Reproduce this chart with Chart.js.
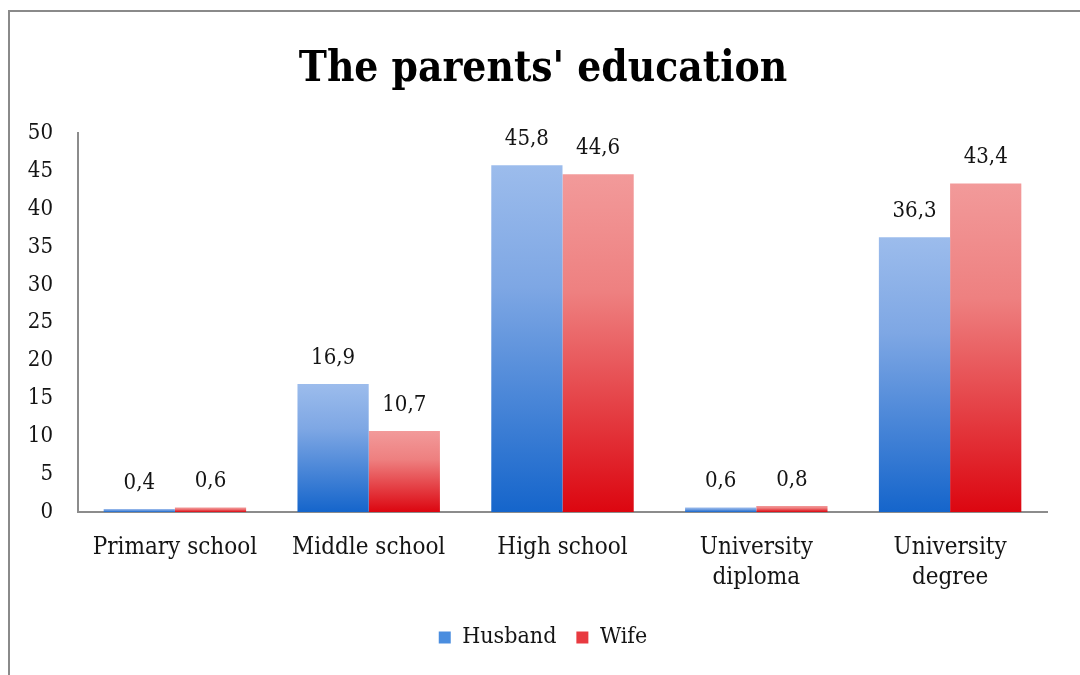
<!DOCTYPE html>
<html>
<head>
<meta charset="utf-8">
<script src="https://cdn.jsdelivr.net/npm/chart.js@4/dist/chart.umd.min.js"></script>
<style>
  html, body { margin: 0; padding: 0; background: #ffffff; }
  #wrap { position: relative; width: 1080px; height: 675px; }
</style>
</head>
<body>
<div id="wrap"><canvas id="c" width="1080" height="675"></canvas></div>
<script>
const categories = [["Primary school"], ["Middle school"], ["High school"], ["University", "diploma"], ["University", "degree"]];
const husbandValues = [0.4, 16.9, 45.8, 0.6, 36.3];
const wifeValues = [0.6, 10.7, 44.6, 0.8, 43.4];
const seriesNames = ["Husband", "Wife"];
const yTicks = [0, 5, 10, 15, 20, 25, 30, 35, 40, 45, 50];

const FONT = "'DejaVu Serif Condensed', 'DejaVu Serif', serif";

function barGradient(ctx, top, mid, bottom) {
  const chart = ctx.chart;
  if (!chart.chartArea) return top;
  const v = ctx.parsed ? ctx.parsed.y : ctx.raw;
  const ys = chart.scales.y;
  const y0 = ys.getPixelForValue(0);
  const y1 = ys.getPixelForValue(v);
  if (!isFinite(y0) || !isFinite(y1) || Math.abs(y0 - y1) < 1) return bottom;
  const g = chart.ctx.createLinearGradient(0, y1, 0, y0);
  g.addColorStop(0, top);
  g.addColorStop(0.35, mid);
  g.addColorStop(1, bottom);
  return g;
}

const borderPlugin = {
  id: 'outerBorder',
  beforeDraw(chart) {
    const c = chart.ctx;
    c.save();
    c.fillStyle = '#ffffff';
    c.fillRect(0, 0, chart.width, chart.height);
    c.strokeStyle = '#8a8a8a';
    c.lineWidth = 2;
    c.beginPath();
    c.moveTo(9, chart.height + 5);
    c.lineTo(9, 11);
    c.lineTo(chart.width + 5, 11);
    c.stroke();
    c.restore();
  }
};

const labelPlugin = {
  id: 'valueLabels',
  afterDatasetsDraw(chart) {
    const c = chart.ctx;
    c.save();
    c.font = "22px " + FONT;
    c.fillStyle = '#141414';
    c.textAlign = 'center';
    c.textBaseline = 'middle';
    chart.data.datasets.forEach((ds, di) => {
      const meta = chart.getDatasetMeta(di);
      meta.data.forEach((el, i) => {
        const txt = String(ds.data[i]).replace('.', ',');
        c.fillText(txt, el.x, el.y - 26);
      });
    });
    c.restore();
  }
};

new Chart(document.getElementById('c'), {
  type: 'bar',
  data: {
    labels: categories,
    datasets: [
      {
        label: seriesNames[0],
        data: husbandValues,
        yAxisID: 'y',
        backgroundColor: (ctx) => barGradient(ctx, '#9cbcec', '#7ea7e4', '#1565cb'),
        borderWidth: 0
      },
      {
        label: seriesNames[1],
        data: wifeValues,
        yAxisID: 'y',
        backgroundColor: (ctx) => barGradient(ctx, '#f29a9a', '#ee8080', '#dc0610'),
        borderWidth: 0
      }
    ]
  },
  options: {
    responsive: false,
    animation: false,
    devicePixelRatio: 1,
    categoryPercentage: 0.735,
    barPercentage: 1.0,
    layout: { padding: { left: 10, right: 4, top: 45, bottom: 16 } },
    plugins: {
      title: {
        display: true,
        text: "The parents' education",
        color: '#000000',
        font: { family: FONT, size: 42, weight: 'bold' },
        padding: { top: 0, bottom: 38 }
      },
      legend: {
        position: 'bottom',
        labels: {
          color: '#141414',
          font: { family: FONT, size: 23 },
          boxWidth: 12,
          boxHeight: 12,
          padding: 20,
          generateLabels(chart) {
            return seriesNames.map((n, i) => ({
              text: n,
              fillStyle: i === 0 ? '#4a8ddf' : '#e83a40',
              strokeStyle: 'rgba(0,0,0,0)',
              lineWidth: 0,
              datasetIndex: i,
              hidden: false,
              fontColor: '#141414'
            }));
          }
        }
      },
      tooltip: { enabled: false }
    },
    scales: {
      x: {
        afterFit(scale) { scale.height -= 8; },
        grid: { display: false, drawTicks: false },
        border: { display: true, color: '#8c8c8c', width: 2 },
        ticks: {
          color: '#141414',
          font: { family: FONT, size: 24, lineHeight: 1.25 },
          padding: 21,
          maxRotation: 0,
          autoSkip: false
        }
      },
      y: {
        position: 'left',
        min: 0,
        max: 50,
        afterBuildTicks(scale) { scale.ticks = yTicks.map(v => ({ value: v })); },
        afterFit(scale) { scale.width = 68; },
        grid: { display: false, drawTicks: false },
        border: { display: true, color: '#8c8c8c', width: 2 },
        ticks: {
          color: '#141414',
          font: { family: FONT, size: 22 },
          padding: 25
        }
      },
      yRight: {
        position: 'right',
        display: true,
        afterFit(scale) { scale.width = 29; },
        grid: { display: false, drawTicks: false },
        border: { display: false },
        ticks: { display: false }
      }
    }
  },
  plugins: [borderPlugin, labelPlugin]
});
</script>
</body>
</html>
